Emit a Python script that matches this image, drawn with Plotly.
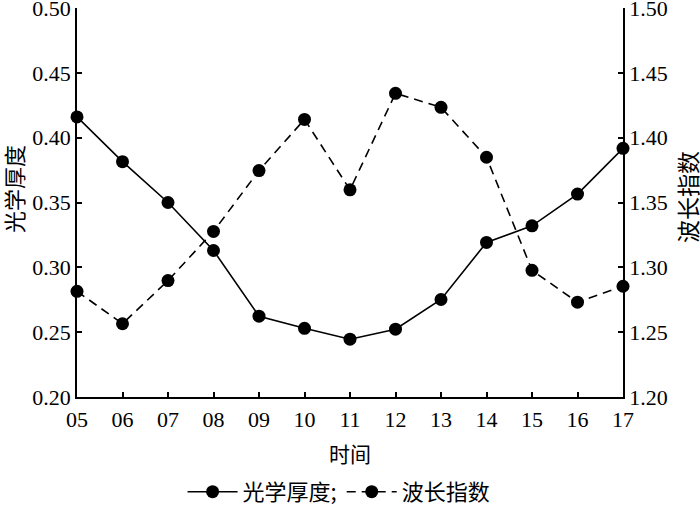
import plotly.graph_objects as go

hours = [5, 6, 7, 8, 9, 10, 11, 12, 13, 14, 15, 16, 17]
hour_labels = ["05", "06", "07", "08", "09", "10", "11", "12", "13", "14", "15", "16", "17"]
aod = [0.416, 0.3815, 0.350, 0.313, 0.2623, 0.253, 0.2446, 0.2523, 0.2752, 0.3192, 0.332, 0.3565, 0.3918]
angstrom = [1.2815, 1.2565, 1.2898, 1.3277, 1.3746, 1.4141, 1.3598, 1.4342, 1.4234, 1.3849, 1.2977, 1.2731, 1.2854]
left_ticks = [0.20, 0.25, 0.30, 0.35, 0.40, 0.45, 0.50]
right_ticks = [1.20, 1.25, 1.30, 1.35, 1.40, 1.45, 1.50]

SERIF = "Liberation Serif, Times New Roman, serif"
CJK = "Noto Sans CJK SC"

fig = go.Figure()
fig.add_trace(go.Scatter(
    x=hours, y=aod, name="光学厚度;", mode="lines+markers",
    line=dict(color="black", width=1.6),
    marker=dict(color="black", size=13),
    cliponaxis=False, yaxis="y"))
fig.add_trace(go.Scatter(
    x=hours, y=angstrom, name="波长指数", mode="lines+markers",
    line=dict(color="black", width=1.6, dash="9px,6px"),
    marker=dict(color="black", size=13),
    cliponaxis=False, yaxis="y2"))

axis_common = dict(showgrid=False, zeroline=False, showline=True, linecolor="black",
                   linewidth=1.5, ticks="inside", ticklen=5, tickwidth=1.5, tickcolor="black",
                   ticklabeloverflow="allow", automargin=False,
                   tickfont=dict(family=SERIF, size=22, color="black"))

fig.update_layout(
    width=700, height=508,
    margin=dict(l=77, r=77, t=8, b=111, autoexpand=False),
    paper_bgcolor="white", plot_bgcolor="white",
    showlegend=True,
    legend=dict(orientation="h", x=0.48, xanchor="center", y=-0.244, yanchor="middle",
                font=dict(family=CJK, size=22, color="black"), itemwidth=50,
                bgcolor="rgba(0,0,0,0)", tracegroupgap=0),
    xaxis=dict(range=[5, 17], tickmode="array", tickvals=hours, ticktext=hour_labels,
               ticklabelstandoff=2, **axis_common),
    yaxis=dict(range=[0.20, 0.50], tickmode="array", tickvals=left_ticks,
               ticktext=[f"{v:.2f}" for v in left_ticks], **axis_common),
    yaxis2=dict(range=[1.20, 1.50], overlaying="y", side="right", tickmode="array",
                tickvals=right_ticks, ticktext=[f"{v:.2f}" for v in right_ticks], **axis_common),
    annotations=[
        dict(text="时间", x=0.5, y=-0.144, xref="paper", yref="paper", xanchor="center",
             yanchor="middle", showarrow=False, font=dict(family=CJK, size=21, color="black")),
        dict(text="光学厚度", x=-0.117, y=0.535, xref="paper", yref="paper", xanchor="center",
             yanchor="middle", textangle=-90, showarrow=False,
             font=dict(family=CJK, size=22, color="black")),
        dict(text="波长指数", x=1.117, y=0.514, xref="paper", yref="paper", xanchor="center",
             yanchor="middle", textangle=-90, showarrow=False,
             font=dict(family=CJK, size=23, color="black")),
    ],
)

fig.write_html("out.html", config={"displayModeBar": False},
               post_script="document.body.style.margin='0';document.body.style.padding='0';")
